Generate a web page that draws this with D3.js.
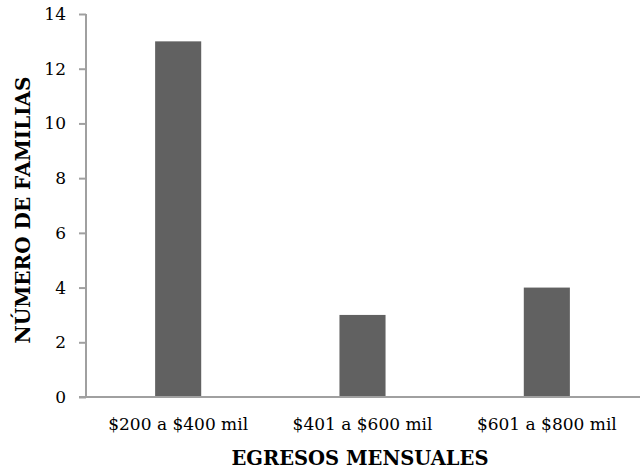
<!DOCTYPE html>
<html>
<head>
<meta charset="utf-8">
<script src="https://cdn.jsdelivr.net/npm/d3@7/dist/d3.min.js"></script>
<style>
  html, body { margin: 0; padding: 0; background: #fff; }
  svg { display: block; }
  text { font-family: "DejaVu Serif", "Liberation Serif", serif; fill: #000; }
</style>
</head>
<body>
<svg id="chart" width="643" height="470"></svg>
<script>
const categories = ["$200 a $400 mil", "$401 a $600 mil", "$601 a $800 mil"];
const values = [13, 3, 4];
const yTicks = [0, 2, 4, 6, 8, 10, 12, 14];
const xTitle = "EGRESOS MENSUALES";
const yTitle = "NÚMERO DE FAMILIAS";

const svg = d3.select("#chart");
const margin = { left: 86, right: 4, top: 14, bottom: 73 };

const x = d3.scaleBand()
  .domain(categories)
  .range([margin.left, 639])
  .paddingInner(0.75)
  .paddingOuter(0.375);

const y = d3.scaleLinear()
  .domain([0, 14])
  .range([397, margin.top]);

const axisColor = "#a0a0a0";

// bars
svg.append("g").selectAll("rect")
  .data(values)
  .join("rect")
  .attr("x", (d, i) => x(categories[i]))
  .attr("y", d => y(d))
  .attr("width", x.bandwidth())
  .attr("height", d => y(0) - y(d))
  .attr("fill", "#616161");

// y axis
const yAxis = svg.append("g")
  .attr("transform", `translate(${margin.left},0)`)
  .call(d3.axisLeft(y).tickValues(yTicks).tickSize(7).tickPadding(13).tickFormat(d3.format("d")));
yAxis.selectAll("path, line").attr("stroke", axisColor).attr("stroke-width", 2);
yAxis.select(".domain").attr("d", `M0,${y(14)}V${y(0)}`);
yAxis.selectAll("text").attr("font-size", 17).attr("font-family", "DejaVu Serif").attr("fill", "#000");

// x axis
const xAxis = svg.append("g")
  .attr("transform", `translate(0,${y(0)})`)
  .call(d3.axisBottom(x).tickSize(0).tickPadding(21));
xAxis.select(".domain").attr("d", `M79,0H640`).attr("stroke", axisColor).attr("stroke-width", 2);
xAxis.selectAll("text").attr("font-size", 17).attr("font-family", "DejaVu Serif").attr("fill", "#000");

// titles
svg.append("text")
  .attr("x", 360)
  .attr("y", 465)
  .attr("text-anchor", "middle")
  .attr("font-size", 19.5)
  .attr("font-weight", "bold")
  .text(xTitle);

svg.append("text")
  .attr("transform", `translate(30,210) rotate(-90)`)
  .attr("text-anchor", "middle")
  .attr("font-size", 20)
  .attr("font-weight", "bold")
  .text(yTitle);
</script>
</body>
</html>
